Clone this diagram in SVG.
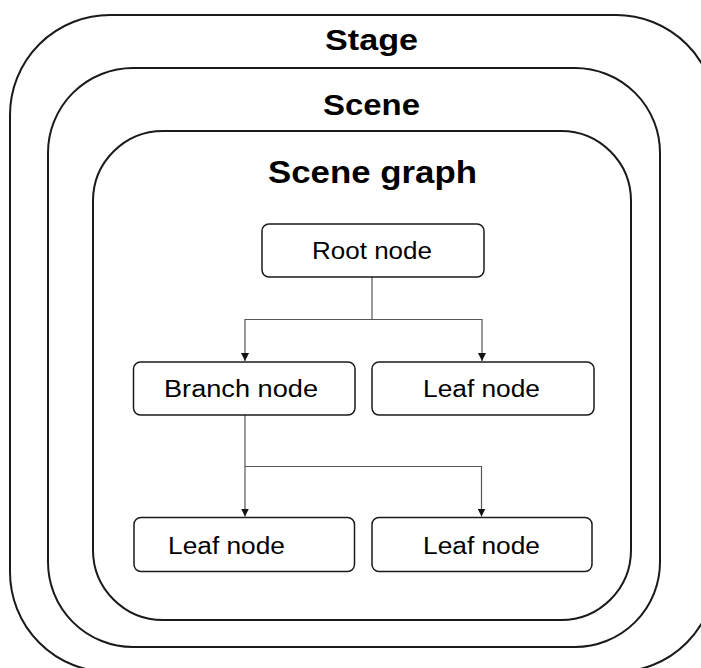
<svg xmlns="http://www.w3.org/2000/svg" width="701" height="668" viewBox="0 0 701 668">
<style>
.frame{fill:none;stroke:#1a1a1a;stroke-width:2}
.box{fill:#fff;stroke:#1a1a1a;stroke-width:1.5}
.title{font-family:"Liberation Sans",Arial,sans-serif;font-weight:bold;fill:#000;text-anchor:middle}
.lbl{font-family:"Liberation Sans",Arial,sans-serif;font-size:23.5px;fill:#000;text-anchor:middle}
.conn{fill:none;stroke:#555;stroke-width:1.2}
</style>
<defs>
<marker id="arr" viewBox="0 0 10 10" refX="10" refY="5" markerWidth="8" markerHeight="8" markerUnits="userSpaceOnUse" orient="auto">
<path d="M0,0 L10,5 L0,10 z" fill="#111"/>
</marker>
</defs>
<rect width="701" height="668" fill="#fff"/>
<g id="stage">
<rect class="frame" x="10" y="15" width="706" height="657" rx="100" ry="100"/>
<text class="title" x="371.5" y="49.5" font-size="30" textLength="93" lengthAdjust="spacingAndGlyphs">Stage</text>
</g>
<g id="scene">
<rect class="frame" x="48" y="68" width="612" height="579" rx="85" ry="85"/>
<text class="title" x="371.5" y="115" font-size="30" textLength="97" lengthAdjust="spacingAndGlyphs">Scene</text>
</g>
<g id="scene-graph">
<rect class="frame" x="93" y="131" width="538" height="489" rx="70" ry="70"/>
<text class="title" x="372.5" y="183" font-size="32" textLength="209" lengthAdjust="spacingAndGlyphs">Scene graph</text>
</g>
<g id="connectors">
<path class="conn" d="M372,277 V319.5 H245 V361" marker-end="url(#arr)"/>
<path class="conn" d="M372,319.5 H482 V361" marker-end="url(#arr)"/>
<path class="conn" d="M245,415 V516.5" marker-end="url(#arr)"/>
<path class="conn" d="M245,466.5 H481.5 V516.5" marker-end="url(#arr)"/>
</g>
<g id="root-node">
<rect class="box" x="262" y="224" width="222" height="53" rx="7" ry="7"/>
<text class="lbl" x="372" y="258.5" textLength="120" lengthAdjust="spacingAndGlyphs">Root node</text>
</g>
<g id="branch-node">
<rect class="box" x="133.5" y="362" width="221.5" height="53" rx="7" ry="7"/>
<text class="lbl" x="241" y="397" textLength="154" lengthAdjust="spacingAndGlyphs">Branch node</text>
</g>
<g id="leaf-node-1">
<rect class="box" x="372" y="362" width="222" height="53" rx="7" ry="7"/>
<text class="lbl" x="481.5" y="397" textLength="117" lengthAdjust="spacingAndGlyphs">Leaf node</text>
</g>
<g id="leaf-node-2">
<rect class="box" x="134" y="517.5" width="220.5" height="54" rx="7" ry="7"/>
<text class="lbl" x="226.5" y="553.5" textLength="117" lengthAdjust="spacingAndGlyphs">Leaf node</text>
</g>
<g id="leaf-node-3">
<rect class="box" x="372" y="517.5" width="220" height="54" rx="7" ry="7"/>
<text class="lbl" x="481.5" y="553.5" textLength="117" lengthAdjust="spacingAndGlyphs">Leaf node</text>
</g>
</svg>
